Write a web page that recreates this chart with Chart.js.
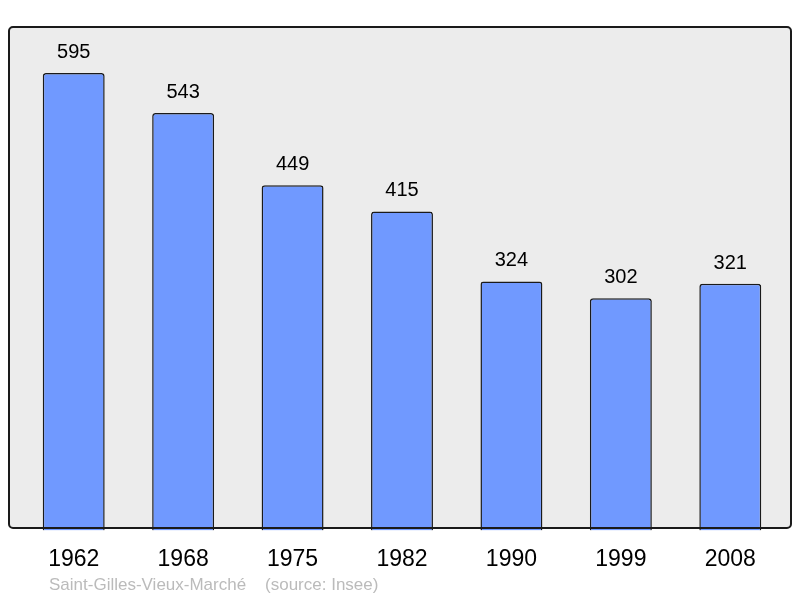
<!DOCTYPE html>
<html>
<head>
<meta charset="utf-8">
<script src="https://cdn.jsdelivr.net/npm/chart.js@4"></script>
<style>
  html, body { margin: 0; padding: 0; background: #fff; }
  #wrap { width: 800px; height: 598px; }
</style>
</head>
<body>
<div id="wrap"><canvas id="pop"></canvas></div>
<script>
var years = ['1962', '1968', '1975', '1982', '1990', '1999', '2008'];
var population = [595, 543, 449, 415, 324, 302, 321];
var caption = 'Saint-Gilles-Vieux-Marché    (source: Insee)';

// grey panel with black frame behind the bars
var panel = {
    id: 'panel',
    beforeDatasetsDraw: function (chart) {
        var c = chart.ctx;
        c.save();
        c.beginPath();
        c.roundRect(9, 27, 782, 501, 4);
        c.fillStyle = '#ececec';
        c.fill();
        c.restore();
    },
    afterDatasetsDraw: function (chart) {
        var c = chart.ctx;
        var meta = chart.getDatasetMeta(0);
        c.save();
        c.beginPath();
        c.roundRect(9, 27, 782, 501, 4);
        c.lineWidth = 2;
        c.strokeStyle = '#1a1a1a';
        c.stroke();
        c.fillStyle = '#000';
        c.font = '20px "Liberation Sans", Arial, sans-serif';
        c.textAlign = 'center';
        c.textBaseline = 'alphabetic';
        meta.data.forEach(function (bar, i) {
            c.fillText(population[i], bar.x, bar.y - 15);
        });
        c.fillStyle = '#bbbbbb';
        c.font = '17px "Liberation Sans", Arial, sans-serif';
        c.textAlign = 'left';
        c.fillText(caption, 49, 590);
        c.restore();
    }
};

var ctx = document.getElementById('pop').getContext('2d');
var chart = new Chart(ctx, {
    type: 'bar',
    data: {
        labels: years,
        datasets: [{
            data: population,
            backgroundColor: '#7099ff',
            borderColor: '#1a1a1a',
            borderWidth: 1.5,
            borderRadius: 3,
            borderSkipped: 'bottom',
            barPercentage: 0.566,
            categoryPercentage: 1
        }]
    },
    options: {
        responsive: true,
        maintainAspectRatio: false,
        animation: false,
        layout: { padding: { top: 27, left: 19, right: 15, bottom: 10 } },
        plugins: {
            legend: { display: false },
            tooltip: { enabled: false }
        },
        scales: {
            x: {
                grid: { display: false, drawTicks: false },
                border: { display: false },
                ticks: {
                    color: '#000',
                    padding: 15,
                    font: { size: 23, family: '"Liberation Sans", Arial, sans-serif' }
                }
            },
            y: {
                display: false,
                min: 0,
                max: 655
            }
        }
    },
    plugins: [panel]
});
</script>
</body>
</html>
